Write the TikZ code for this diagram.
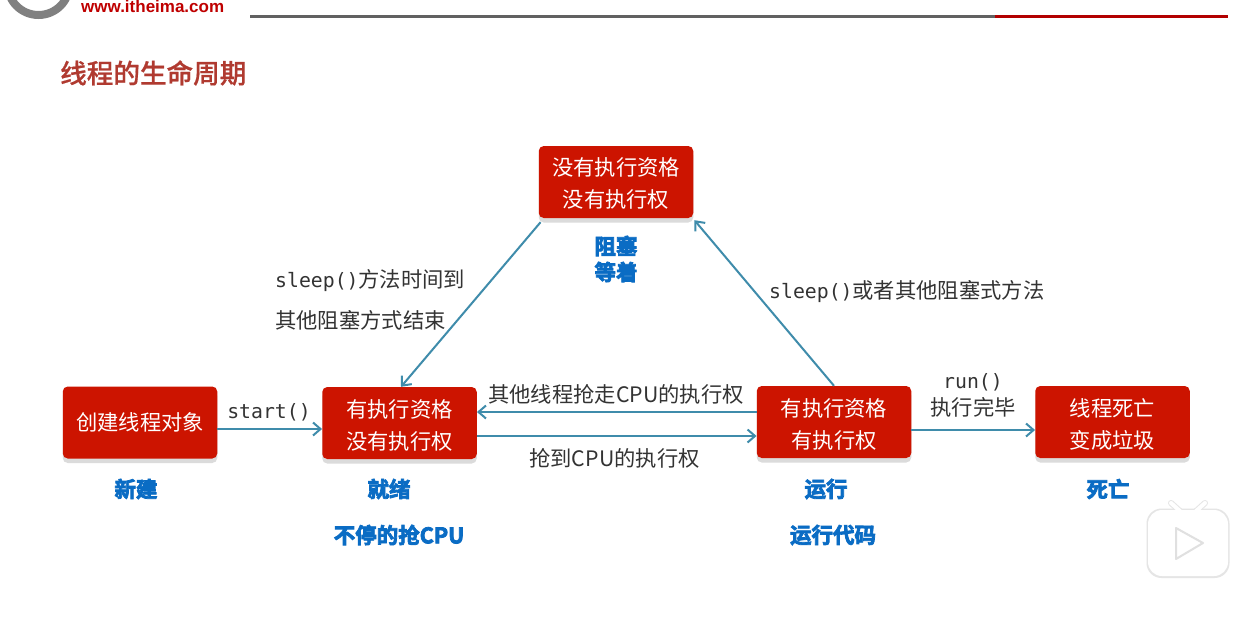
\documentclass[tikz,border=0pt]{standalone}
\usepackage{fontspec}
\usetikzlibrary{shadows,arrows.meta}
\setmainfont{Noto Sans CJK SC}
\newfontfamily\cjkfont{Noto Sans CJK SC}
\newfontfamily\heavyfont[FakeBold=3.5]{Noto Sans CJK SC Bold}
\newfontfamily\titlefont[FakeBold=0.6]{Noto Sans CJK SC Medium}
\newfontfamily\codefont{DejaVu Sans Mono}
\newfontfamily\webfont{Liberation Sans}
\definecolor{boxred}{HTML}{CC1400}
\definecolor{linkblue}{HTML}{3F8CAB}
\definecolor{labelblue}{HTML}{0A6CC4}
\definecolor{titlered}{HTML}{B03A30}
\definecolor{txtgray}{HTML}{333333}
\tikzset{
  statebox/.style={draw=none,fill=boxred,rounded corners=5pt,minimum width=154.5pt,minimum height=72pt,inner sep=0pt,
    text=white,align=center,font=\cjkfont\fontsize{21.3}{32}\selectfont,
    drop shadow={shadow xshift=0pt,shadow yshift=-4.5pt,fill=black!14,opacity=1}},
  conn/.style={draw=linkblue,line width=2pt,-{Straight Barb[length=7.5pt,width=13pt,line width=2pt]}},
  edgetxt/.style={inner sep=0pt,text=txtgray,font=\cjkfont\fontsize{21.3}{25}\selectfont},
  statetxt/.style={inner sep=0pt,text=labelblue,font=\heavyfont\fontsize{21.5}{26}\selectfont},
}
\newcommand{\mono}[1]{{\codefont\fontsize{19.8}{24}\selectfont #1}}
\newcommand{\strutA}{\rule{0pt}{23pt}}
\newcommand{\strutB}{\rule{0pt}{21pt}}
\begin{document}
\begin{tikzpicture}[x=1pt,y=-1pt]
\useasboundingbox (0,0) rectangle (1249,627);
\clip (0,0) rectangle (1249,627);
\fill[white] (0,0) rectangle (1249,627);
% header
\draw[draw=black!50,line width=8pt] (38.5,-16) circle[radius=31];
\node[anchor=west,inner sep=0pt,text=red!75!black,font=\webfont\bfseries\fontsize{17}{20}\selectfont] (web) at (81,6.5) {www.itheima.com};
\fill[black!62] (250,14.5) rectangle (995,17.5);
\fill[red!70!black] (995,14.5) rectangle (1228,17.5);
\node[anchor=west,inner sep=0pt,text=titlered,font=\titlefont\fontsize{26.6}{30}\selectfont] (title) at (60,73) {线程的生命周期};
% state boxes
\node[statebox] (new) at (140,422.5) {创建线程对象};
\node[statebox] (ready) at (399.5,423) {\strutA 有执行资格\\没有执行权};
\node[statebox] (block) at (616,182) {\strutB 没有执行资格\\没有执行权};
\node[statebox] (run) at (834,422) {\strutA 有执行资格\\有执行权};
\node[statebox] (dead) at (1112.5,422) {\strutA 线程死亡\\变成垃圾};
% connectors
\draw[conn] ([yshift=-6.5pt]new.east) -- ([yshift=-6pt]ready.west);
\draw[conn] ([yshift=10pt]run.west) -- ([yshift=11pt]ready.east);
\draw[conn] ([yshift=-13pt]ready.east) -- ([yshift=-14pt]run.west);
\draw[conn] ([yshift=-8pt]run.east) -- ([yshift=-8pt]dead.west);
\draw[conn] ([xshift=2pt,yshift=-4pt]block.south west) -- ([xshift=1.5pt]ready.north);
\draw[conn] (run.north) -- ([xshift=1pt,yshift=-2pt]block.south east);
% connector labels
\node[edgetxt] (l1) at (269,412) {\mono{start()}};
\node[edgetxt,anchor=west] (l2) at (275,281) {\mono{sleep()}方法时间到};
\node[edgetxt,anchor=west] (l3) at (275,320) {其他阻塞方式结束};
\node[edgetxt,anchor=west] (l4) at (769,292) {\mono{sleep()}或者其他阻塞式方法};
\node[edgetxt] (l5) at (616,394) {其他线程抢走CPU的执行权};
\node[edgetxt] (l6) at (614.5,458) {抢到CPU的执行权};
\node[edgetxt] (l7) at (973,382) {\mono{run()}};
\node[edgetxt] (l8) at (973,407) {执行完毕};
% state labels
\node[statetxt] (s1) at (136,489) {新建};
\node[statetxt] (s2) at (389,489) {就绪};
\node[statetxt] (s3) at (399,535) {不停的抢CPU};
\node[statetxt] (s4) at (826,489) {运行};
\node[statetxt] (s5) at (833,535) {运行代码};
\node[statetxt] (s6) at (1108,489) {死亡};
\node[statetxt] (s7) at (616,246) {阻塞};
\node[statetxt] (s8) at (616,272) {等着};
% video badge
\draw[black!10,line width=6pt,line cap=round] (1171,503) -- (1181,512);
\draw[black!10,line width=6pt,line cap=round] (1205,503) -- (1195,512);
\fill[black!10,rounded corners=15pt] (1146.5,508.5) rectangle (1229.5,578);
\draw[white,line width=4pt,line cap=round] (1171,503) -- (1181,512);
\draw[white,line width=4pt,line cap=round] (1205,503) -- (1195,512);
\fill[white,rounded corners=14pt] (1148,510) rectangle (1228,576);
\draw[black!12,line width=2pt,line join=round,fill=white] (1176,528) -- (1203,543) -- (1176,559) -- cycle;
\end{tikzpicture}
\end{document}
